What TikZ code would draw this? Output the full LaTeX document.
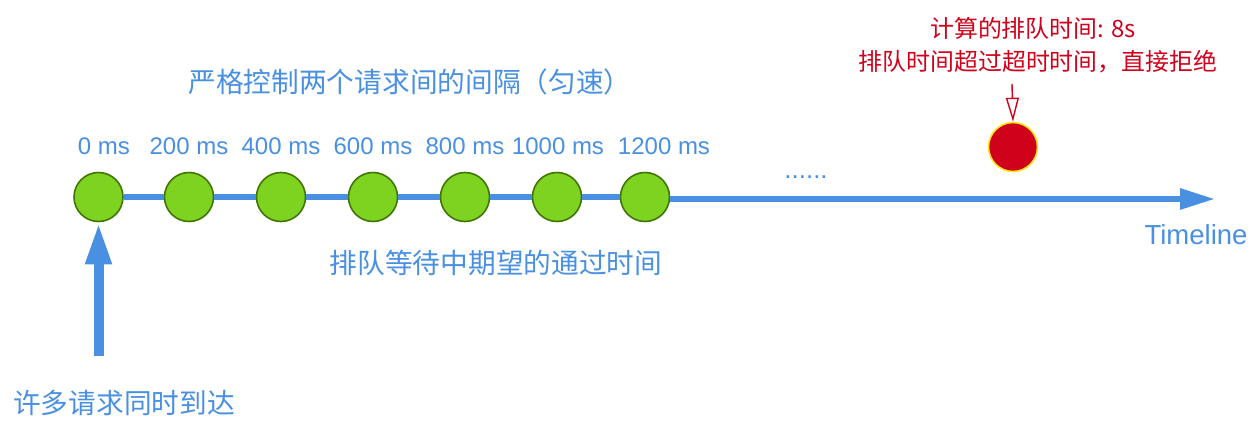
\documentclass[tikz,border=0pt]{standalone}
\usepackage{fontspec}
\setmainfont{Liberation Sans}
\newfontfamily\cjk{Noto Sans CJK SC}
\usetikzlibrary{arrows.meta}
\definecolor{tblue}{HTML}{4A90E2}
\definecolor{tgreen}{HTML}{7ED321}
\definecolor{tgreenb}{HTML}{417505}
\definecolor{tred}{HTML}{D0021B}
\definecolor{tyellow}{HTML}{F8E71C}
\tikzset{
  req/.style={circle, fill=tgreen, draw=tgreenb, line width=1.6pt, minimum size=49pt, inner sep=0pt},
  rej/.style={circle, fill=tred, draw=tyellow, line width=1.6pt, minimum size=49pt, inner sep=0pt},
  ms/.style={text=tblue, font=\fontsize{24}{28}\selectfont, inner sep=0pt},
  cn/.style={text=tblue, font=\cjk\fontsize{27.7}{32}\selectfont, inner sep=0pt},
  rcn/.style={text=tred, font=\cjk\fontsize{23.9}{28}\selectfont, inner sep=0pt},
  tl/.style={tblue, line width=6pt},
}
\begin{document}
\begin{tikzpicture}[x=1pt,y=-1pt]
\useasboundingbox (0,0) rectangle (1250,422);
% circles
\node[req] (c0) at (98.5,197) {};
\node[req] (c1) at (189,197) {};
\node[req] (c2) at (281,197) {};
\node[req] (c3) at (373,197) {};
\node[req] (c4) at (465,197) {};
\node[req] (c5) at (557,197) {};
\node[req] (c6) at (645,197) {};
\coordinate (tip) at (1215,199);
% timeline segments
\draw[tl] (c0) -- (c1);
\draw[tl] (c1) -- (c2);
\draw[tl] (c2) -- (c3);
\draw[tl] (c3) -- (c4);
\draw[tl] (c4) -- (c5);
\draw[tl] (c5) -- (c6);
\draw[tl, -{Triangle[length=35pt,width=20pt]}] (c6.east |- tip) -- (tip);
% labels
\node[ms] (l0) at (104,146) {0 ms};
\node[ms] (l1) at (189,146) {200 ms};
\node[ms] (l2) at (281,146) {400 ms};
\node[ms] (l3) at (373,146) {600 ms};
\node[ms] (l4) at (465,146) {800 ms};
\node[ms] (l5) at (558,146) {1000 ms};
\node[ms] (l6) at (664,146) {1200 ms};
\node[ms, font=\fontsize{26}{28}\selectfont] (dots) at (806,177) {......};
\node[ms, font=\fontsize{27.5}{32}\selectfont] (timeline) at (1196,235) {Timeline};
\node[cn] (title) at (410,82) {严格控制两个请求间的间隔（匀速）};
\node[cn] (expect) at (496,263) {排队等待中期望的通过时间};
\node[cn] (many) at (124,403) {许多请求同时到达};
% incoming arrow
\coordinate (src) at (98.5,356);
\draw[tblue, line width=10pt, -{Triangle[length=42pt,width=24pt]}] (src) -- (c0.south);
% rejected request
\node[rej] (r) at (1013,147) {};
\node[rcn] (rt1) at (1033,28) {计算的排队时间: 8s};
\node[rcn] (rt2) at (1038,62) {排队时间超过超时时间，直接拒绝};
\coordinate (rs) at (1012,84);
\draw[tred, line width=1.4pt, -{Triangle[open,length=24pt,width=13pt]}] (rs) -- (r.north);
\end{tikzpicture}
\end{document}
